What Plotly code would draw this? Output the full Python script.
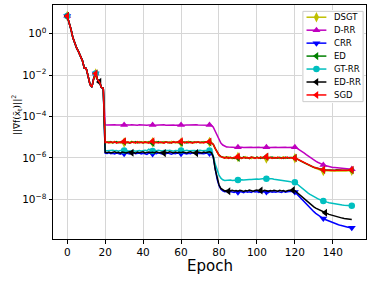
import plotly.graph_objects as go

# ---------------- data (log10 of ||grad f||^2) ----------------
epochs = list(range(151))

dsgt_log10 = [
    0.85, 0.55, 0.20, -0.20, -0.47, -0.70, -0.88, -1.08, -1.30, -1.66,
    -1.68, -2.05, -2.45, -2.58, -2.15, -1.92, -2.22, -2.33, -2.60, -2.64,
    -5.24, -5.27, -5.22, -5.28, -5.25, -5.21, -5.27, -5.24, -5.29, -5.23,
    -5.26, -5.22, -5.28, -5.25, -5.20, -5.27, -5.24, -5.28, -5.22, -5.26,
    -5.23, -5.28, -5.25, -5.21, -5.27, -5.24, -5.29, -5.22, -5.26, -5.25,
    -5.28, -5.22, -5.26, -5.24, -5.29, -5.21, -5.26, -5.25, -5.28, -5.23,
    -5.26, -5.22, -5.27, -5.25, -5.20, -5.27, -5.24, -5.28, -5.23, -5.26,
    -5.24, -5.28, -5.22, -5.26, -5.25, -5.23, -5.28, -5.36, -5.56, -5.76,
    -5.88, -5.94, -5.98, -5.96, -6.02, -5.95, -6.00, -6.04, -5.97, -6.01,
    -5.96, -6.03, -5.98, -6.00, -5.94, -6.02, -5.99, -6.04, -5.96, -6.00,
    -5.97, -6.02, -5.95, -6.01, -5.98, -6.03, -5.96, -6.00, -6.02, -5.97,
    -6.01, -5.96, -6.03, -5.99, -5.95, -6.02, -5.98, -6.01, -5.97, -6.00,
    -6.02, -6.05, -6.10, -6.15, -6.20, -6.26, -6.30, -6.35, -6.39, -6.43,
    -6.47, -6.50, -6.53, -6.56, -6.59, -6.64, -6.61, -6.63, -6.62, -6.64,
    -6.62, -6.63, -6.61, -6.64, -6.62, -6.63, -6.61, -6.63, -6.62, -6.63,
    -6.62,
]

drr_log10 = [
    0.85, 0.55, 0.20, -0.20, -0.47, -0.70, -0.88, -1.08, -1.30, -1.66,
    -1.68, -2.05, -2.45, -2.58, -2.15, -1.92, -2.22, -2.33, -2.60, -2.64,
    -4.40, -4.41, -4.40, -4.42, -4.41, -4.40, -4.41, -4.42, -4.41, -4.40,
    -4.41, -4.40, -4.42, -4.41, -4.40, -4.41, -4.41, -4.42, -4.40, -4.41,
    -4.40, -4.41, -4.42, -4.41, -4.40, -4.41, -4.42, -4.41, -4.40, -4.41,
    -4.41, -4.40, -4.42, -4.41, -4.41, -4.40, -4.41, -4.42, -4.41, -4.40,
    -4.41, -4.42, -4.40, -4.41, -4.41, -4.40, -4.42, -4.41, -4.40, -4.41,
    -4.41, -4.40, -4.42, -4.41, -4.40, -4.41, -4.42, -4.52, -4.72, -4.94,
    -5.13, -5.28, -5.38, -5.44, -5.47, -5.48, -5.49, -5.48, -5.49, -5.50,
    -5.49, -5.48, -5.49, -5.50, -5.49, -5.48, -5.49, -5.49, -5.50, -5.49,
    -5.48, -5.49, -5.50, -5.49, -5.48, -5.49, -5.49, -5.50, -5.49, -5.48,
    -5.49, -5.50, -5.49, -5.48, -5.49, -5.49, -5.50, -5.49, -5.48, -5.49,
    -5.49, -5.53, -5.58, -5.64, -5.70, -5.77, -5.84, -5.91, -5.98, -6.04,
    -6.10, -6.16, -6.21, -6.26, -6.30, -6.34, -6.37, -6.40, -6.42, -6.44,
    -6.46, -6.47, -6.48, -6.49, -6.50, -6.51, -6.52, -6.53, -6.54, -6.54,
    -6.55,
]

crr_log10 = [
    0.85, 0.55, 0.20, -0.20, -0.47, -0.70, -0.88, -1.08, -1.30, -1.66,
    -1.68, -2.05, -2.45, -2.58, -2.15, -1.92, -2.22, -2.33, -2.60, -2.64,
    -5.77, -5.79, -5.76, -5.80, -5.78, -5.81, -5.77, -5.79, -5.82, -5.78,
    -5.80, -5.77, -5.79, -5.81, -5.78, -5.76, -5.80, -5.79, -5.77, -5.81,
    -5.78, -5.80, -5.83, -5.77, -5.79, -5.81, -5.78, -5.80, -5.76, -5.79,
    -5.81, -5.78, -5.80, -5.77, -5.79, -5.82, -5.78, -5.80, -5.77, -5.79,
    -5.80, -5.77, -5.79, -5.81, -5.78, -5.80, -5.76, -5.79, -5.81, -5.78,
    -5.79, -5.77, -5.80, -5.78, -5.76, -5.79, -5.78, -5.98, -6.58, -7.03,
    -7.33, -7.52, -7.60, -7.64, -7.62, -7.66, -7.63, -7.65, -7.67, -7.63,
    -7.66, -7.62, -7.65, -7.68, -7.63, -7.66, -7.64, -7.67, -7.62, -7.65,
    -7.63, -7.67, -7.64, -7.66, -7.62, -7.65, -7.68, -7.63, -7.66, -7.64,
    -7.66, -7.63, -7.65, -7.67, -7.62, -7.66, -7.64, -7.63, -7.61, -7.64,
    -7.65, -7.74, -7.84, -7.94, -8.04, -8.14, -8.24, -8.34, -8.43, -8.52,
    -8.60, -8.68, -8.75, -8.82, -8.88, -8.93, -8.98, -9.02, -9.06, -9.10,
    -9.14, -9.17, -9.20, -9.23, -9.26, -9.29, -9.31, -9.33, -9.35, -9.37,
    -9.38,
]

ed_log10 = [
    0.85, 0.55, 0.20, -0.20, -0.47, -0.70, -0.88, -1.08, -1.30, -1.66,
    -1.68, -2.05, -2.45, -2.58, -2.15, -1.92, -2.22, -2.33, -2.60, -2.64,
    -5.27, -5.23, -5.26, -5.22, -5.28, -5.25, -5.21, -5.27, -5.24, -5.26,
    -5.22, -5.27, -5.25, -5.29, -5.23, -5.26, -5.21, -5.27, -5.25, -5.24,
    -5.28, -5.23, -5.26, -5.25, -5.22, -5.28, -5.24, -5.26, -5.21, -5.27,
    -5.24, -5.27, -5.22, -5.26, -5.25, -5.28, -5.23, -5.26, -5.24, -5.21,
    -5.27, -5.25, -5.23, -5.28, -5.26, -5.22, -5.27, -5.24, -5.26, -5.23,
    -5.27, -5.24, -5.26, -5.22, -5.27, -5.25, -5.27, -5.35, -5.54, -5.74,
    -5.86, -5.93, -5.96, -6.00, -5.95, -6.01, -5.97, -5.99, -6.03, -5.96,
    -6.00, -5.97, -6.02, -5.95, -6.01, -5.98, -6.03, -5.96, -5.99, -6.02,
    -5.96, -6.00, -6.03, -5.97, -6.01, -5.95, -6.02, -5.98, -5.96, -6.01,
    -5.98, -6.02, -5.97, -6.00, -6.03, -5.96, -6.01, -5.98, -6.00, -5.99,
    -6.00, -6.04, -6.09, -6.14, -6.19, -6.24, -6.29, -6.33, -6.37, -6.41,
    -6.45, -6.48, -6.51, -6.53, -6.55, -6.57, -6.58, -6.59, -6.58, -6.60,
    -6.59, -6.60, -6.58, -6.60, -6.59, -6.60, -6.59, -6.61, -6.60, -6.60,
    -6.60,
]

gtrr_log10 = [
    0.85, 0.55, 0.20, -0.20, -0.47, -0.70, -0.88, -1.08, -1.30, -1.66,
    -1.68, -2.05, -2.45, -2.58, -2.15, -1.92, -2.22, -2.33, -2.60, -2.64,
    -5.64, -5.66, -5.65, -5.67, -5.63, -5.66, -5.65, -5.68, -5.64, -5.66,
    -5.65, -5.63, -5.67, -5.66, -5.64, -5.66, -5.68, -5.65, -5.64, -5.67,
    -5.65, -5.63, -5.66, -5.58, -5.64, -5.67, -5.65, -5.66, -5.63, -5.66,
    -5.67, -5.64, -5.66, -5.65, -5.63, -5.66, -5.68, -5.64, -5.65, -5.66,
    -5.64, -5.67, -5.65, -5.63, -5.66, -5.65, -5.67, -5.64, -5.66, -5.65,
    -5.63, -5.66, -5.64, -5.65, -5.67, -5.64, -5.66, -5.90, -6.30, -6.60,
    -6.83, -6.98, -7.06, -7.09, -7.08, -7.10, -7.07, -7.09, -7.08, -7.10,
    -7.07, -7.08, -7.06, -7.07, -7.05, -7.06, -7.04, -7.05, -7.03, -7.04,
    -7.02, -7.03, -7.01, -7.02, -7.00, -7.01, -7.00, -7.02, -7.01, -7.03,
    -7.04, -7.05, -7.07, -7.08, -7.10, -7.11, -7.13, -7.14, -7.16, -7.17,
    -7.18, -7.25, -7.33, -7.41, -7.49, -7.56, -7.63, -7.70, -7.76, -7.82,
    -7.87, -7.92, -7.97, -8.01, -8.05, -8.08, -8.11, -8.14, -8.17, -8.19,
    -8.21, -8.23, -8.25, -8.26, -8.27, -8.28, -8.29, -8.30, -8.30, -8.31,
    -8.31,
]

edrr_log10 = [
    0.85, 0.55, 0.20, -0.20, -0.47, -0.70, -0.88, -1.08, -1.30, -1.66,
    -1.68, -2.05, -2.45, -2.58, -2.15, -1.92, -2.22, -2.33, -2.60, -2.64,
    -5.73, -5.75, -5.72, -5.76, -5.74, -5.71, -5.75, -5.73, -5.77, -5.72,
    -5.74, -5.76, -5.73, -5.71, -5.75, -5.74, -5.77, -5.72, -5.75, -5.73,
    -5.71, -5.76, -5.74, -5.72, -5.75, -5.73, -5.76, -5.71, -5.74, -5.75,
    -5.72, -5.77, -5.73, -5.75, -5.71, -5.74, -5.76, -5.72, -5.75, -5.73,
    -5.75, -5.72, -5.74, -5.76, -5.73, -5.71, -5.75, -5.74, -5.77, -5.72,
    -5.74, -5.76, -5.72, -5.75, -5.73, -5.71, -5.75, -5.95, -6.55, -7.00,
    -7.30, -7.48, -7.56, -7.60, -7.58, -7.61, -7.59, -7.57, -7.60, -7.58,
    -7.61, -7.57, -7.59, -7.62, -7.58, -7.60, -7.56, -7.59, -7.61, -7.58,
    -7.55, -7.60, -7.58, -7.61, -7.57, -7.59, -7.62, -7.58, -7.60, -7.57,
    -7.59, -7.61, -7.57, -7.60, -7.58, -7.62, -7.59, -7.56, -7.58, -7.56,
    -7.58, -7.66, -7.75, -7.84, -7.93, -8.01, -8.09, -8.17, -8.24, -8.31,
    -8.37, -8.43, -8.48, -8.53, -8.57, -8.61, -8.65, -8.69, -8.73, -8.76,
    -8.79, -8.82, -8.85, -8.87, -8.89, -8.91, -8.93, -8.94, -8.96, -8.97,
    -8.98,
]

sgd_log10 = [
    0.85, 0.55, 0.20, -0.20, -0.47, -0.70, -0.88, -1.08, -1.30, -1.66,
    -1.68, -2.05, -2.45, -2.58, -2.15, -1.92, -2.22, -2.33, -2.60, -2.64,
    -5.26, -5.24, -5.28, -5.23, -5.27, -5.22, -5.29, -5.25, -5.24, -5.28,
    -5.20, -5.27, -5.23, -5.28, -5.25, -5.24, -5.29, -5.22, -5.27, -5.25,
    -5.28, -5.23, -5.26, -5.29, -5.22, -5.20, -5.27, -5.25, -5.28, -5.24,
    -5.26, -5.29, -5.23, -5.27, -5.25, -5.28, -5.22, -5.26, -5.24, -5.27,
    -5.20, -5.26, -5.28, -5.23, -5.27, -5.25, -5.29, -5.24, -5.26, -5.22,
    -5.27, -5.25, -5.28, -5.23, -5.26, -5.21, -5.26, -5.34, -5.54, -5.75,
    -5.87, -5.94, -5.97, -6.01, -5.96, -6.02, -5.98, -6.01, -5.97, -6.03,
    -5.93, -6.00, -6.03, -5.97, -6.01, -5.98, -6.02, -5.96, -6.00, -6.03,
    -5.98, -6.01, -5.96, -6.02, -5.99, -5.94, -6.01, -5.97, -6.03, -5.99,
    -6.02, -5.97, -6.00, -6.03, -5.98, -6.01, -5.96, -6.02, -5.99, -6.01,
    -6.01, -6.04, -6.09, -6.14, -6.19, -6.24, -6.29, -6.33, -6.37, -6.41,
    -6.45, -6.48, -6.51, -6.54, -6.56, -6.58, -6.59, -6.60, -6.60, -6.61,
    -6.60, -6.61, -6.60, -6.59, -6.61, -6.60, -6.60, -6.61, -6.59, -6.60,
    -6.58,
]

series_names = ["DSGT", "D-RR", "CRR", "ED", "GT-RR", "ED-RR", "SGD"]
series_log10 = [dsgt_log10, drr_log10, crr_log10, ed_log10, gtrr_log10, edrr_log10, sgd_log10]

x_tick_vals = [0, 20, 40, 60, 80, 100, 120, 140]
y_tick_exponents = [0, -2, -4, -6, -8]

# ---------------- styles ----------------
colors = ["#bfbf00", "#bf00bf", "#0000ff", "#008000", "#00bfbf", "#000000", "#ff0000"]
symbols = ["diamond-tall", "triangle-up", "triangle-down", "triangle-left",
           "circle", "triangle-left", "triangle-left"]
msizes = [7.5, 7, 7, 7, 6.5, 7, 7]
mark_every = [15, 15, 15, 15, 15, 17, 15]

FONT = "DejaVu Sans"
W, H = 373, 281
L, R, T, B = 53, 7, 5, 42

fig = go.Figure()

for name, logs, c, s, ms, me in zip(series_names, series_log10, colors, symbols, msizes, mark_every):
    vals = [10 ** v for v in logs]
    fig.add_trace(go.Scatter(x=epochs, y=vals, mode="lines", name=name,
                             line=dict(color=c, width=1.5), showlegend=False,
                             xaxis="x", yaxis="y"))
    fig.add_trace(go.Scatter(x=epochs[::me], y=vals[::me], mode="markers", name=name,
                             marker=dict(color=c, symbol=s, size=ms, line=dict(width=0)),
                             showlegend=False, xaxis="x", yaxis="y"))

# ---------------- custom legend (inset subplot) ----------------
fig.add_trace(go.Scatter(x=[0, 1, 1, 0, 0], y=[0, 0, 1, 1, 0], mode="lines",
                         fill="toself", fillcolor="rgba(255,255,255,0.85)",
                         line=dict(color="#cccccc", width=1),
                         showlegend=False, hoverinfo="skip", xaxis="x2", yaxis="y2"))
top_y, step_y = 0.935, 0.1435
for i, (name, c, s, ms) in enumerate(zip(series_names, colors, symbols, msizes)):
    yy = top_y - i * step_y
    fig.add_trace(go.Scatter(x=[0.06, 0.39], y=[yy, yy], mode="lines",
                             line=dict(color=c, width=1.5), showlegend=False,
                             hoverinfo="skip", xaxis="x2", yaxis="y2"))
    fig.add_trace(go.Scatter(x=[0.225], y=[yy], mode="markers",
                             marker=dict(color=c, symbol=s, size=ms, line=dict(width=0)),
                             showlegend=False, hoverinfo="skip", xaxis="x2", yaxis="y2"))
    fig.add_annotation(x=0.48, y=yy, xref="x2", yref="y2", text=name, showarrow=False,
                       xanchor="left", yanchor="middle",
                       font=dict(family=FONT, size=8.5, color="black"))

pw = W - L - R
ph = H - T - B
lx0, lx1 = 302, 364
ly0, ly1 = 10, 103
pad = 0.015
fig.update_layout(
    xaxis2=dict(domain=[(lx0 - L) / pw, (lx1 - L) / pw], range=[-pad, 1 + pad],
                visible=False, anchor="y2", fixedrange=True),
    yaxis2=dict(domain=[(H - B - ly1) / ph, (H - B - ly0) / ph], range=[-pad, 1 + pad],
                visible=False, anchor="x2", fixedrange=True),
)

# ---------------- axes ----------------
fig.update_layout(
    width=W, height=H,
    margin=dict(l=L, r=R, t=T, b=B, pad=0),
    paper_bgcolor="white", plot_bgcolor="white",
    font=dict(family=FONT, size=10.5, color="black"),
    showlegend=False,
    hovermode=False,
    xaxis=dict(
        range=[-7.5, 157.5], tickvals=x_tick_vals,
        ticktext=[str(v) for v in x_tick_vals],
        showgrid=True, gridcolor="#d6d6d6", gridwidth=1,
        zeroline=False, showline=True, linecolor="black", linewidth=1, mirror=True,
        ticks="outside", ticklen=3.5, tickwidth=1, tickcolor="black",
        tickfont=dict(family=FONT, size=10.5),
        domain=[0, 1], anchor="y", automargin=False,
    ),
    yaxis=dict(
        type="log", range=[-9.92, 1.386],
        tickvals=[10 ** e for e in y_tick_exponents],
        ticktext=["10<sup>%s</sup>" % (str(e).replace("-", "\u2212")) for e in y_tick_exponents],
        showgrid=True, gridcolor="#d6d6d6", gridwidth=1,
        zeroline=False, showline=True, linecolor="black", linewidth=1, mirror=True,
        ticks="outside", ticklen=3.5, tickwidth=1, tickcolor="black",
        tickfont=dict(family=FONT, size=10.5),
        domain=[0, 1], anchor="x", automargin=False,
    ),
)

fig.add_annotation(text="Epoch", x=0.5, y=-0.115, xref="paper", yref="paper",
                   showarrow=False, xanchor="center", yanchor="middle",
                   font=dict(family=FONT, size=15, color="black"))
fig.add_annotation(text="||\u2207f(x\u0304<sub>t</sub>)||<sup>2</sup>",
                   x=(17 - L) / pw, y=0.53, xref="paper", yref="paper",
                   showarrow=False, textangle=-90, xanchor="center", yanchor="middle",
                   font=dict(family=FONT, size=9, color="black"))

fig.write_html("out.html", config={"displayModeBar": False},
               post_script="document.body.style.margin='0';")
